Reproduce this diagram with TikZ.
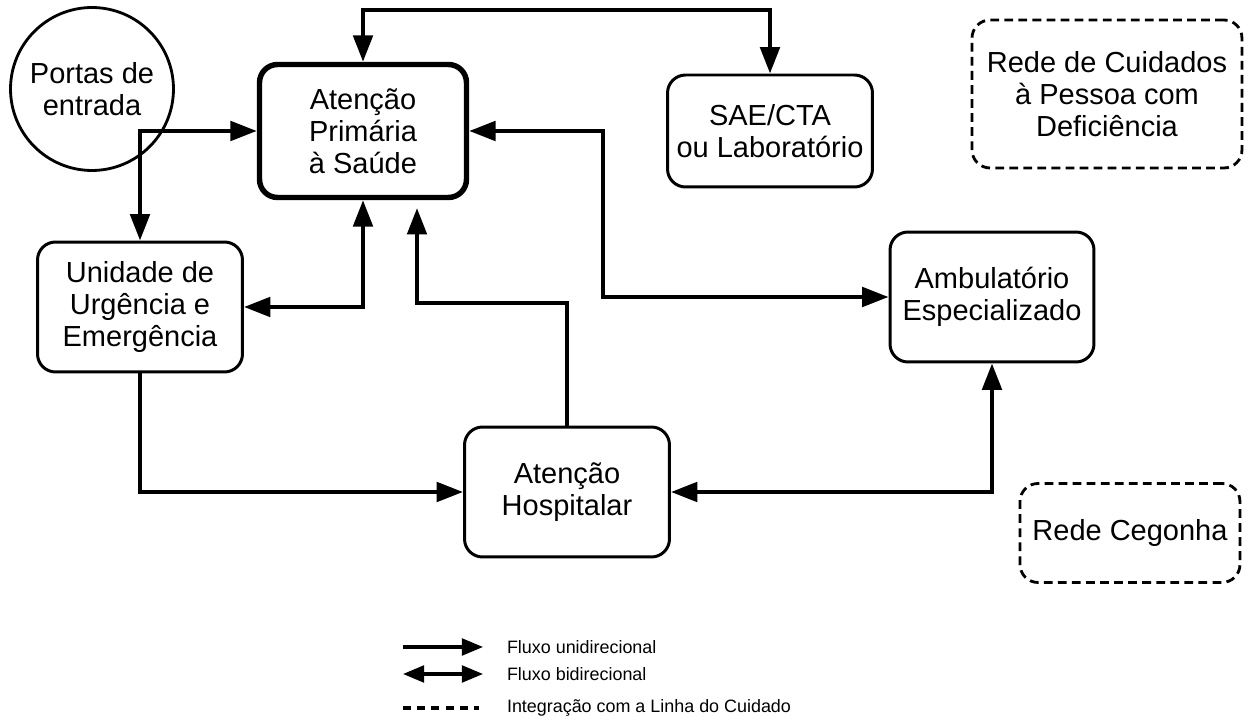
\documentclass[tikz,border=0pt]{standalone}
\usepackage{fontspec}
\setmainfont{Liberation Sans}
\usetikzlibrary{arrows.meta}

\begin{document}
\begin{tikzpicture}[x=0.02cm,y=-0.02cm,>={Triangle[length=15pt,width=11pt]},line width=2.3pt,
        main node/.style={draw,rounded corners=0.36cm,line width=1.7pt,align=center,inner sep=0pt,
                minimum width=4.1cm,minimum height=2.6cm,font=\fontsize{16.5}{18.2}\selectfont},
        rede node/.style={main node,dash pattern=on 5pt off 3pt,line width=1.6pt},
        legend text/.style={anchor=west,inner sep=0pt,font=\fontsize{10.2}{12}\selectfont}]
        \useasboundingbox (0,0) rectangle (1249,722);
        \node[draw,circle,line width=1.6pt,minimum size=3.26cm,align=center,inner sep=0pt,
                font=\fontsize{16.5}{18.2}\selectfont] (portas) at (92,89) {Portas de\\entrada};
        \node[main node,line width=3.1pt,minimum width=4.14cm,minimum height=2.66cm] (aps) at (363,131) {Atenção\\Primária\\à Saúde};
        \node[main node,minimum height=2.24cm] (sae) at (770,131) {SAE/CTA\\ou Laboratório};
        \node[main node] (uue) at (140,307) {Unidade de\\Urgência e\\Emergência};
        \node[main node,minimum width=4.08cm] (amb) at (992,297) {Ambulatório\\Especializado};
        \node[main node] (hosp) at (567,492) {Atenção\\Hospitalar};
        \node[rede node,minimum width=5.4cm,minimum height=2.96cm] (pcd) at (1107,94) {Rede de Cuidados\\à Pessoa com\\Deficiência};
        \node[rede node,minimum width=4.4cm,minimum height=1.98cm] (cegonha) at (1130,533) {Rede Cegonha};
        \coordinate (topo) at (363,10);
        \coordinate (desvio) at (603,131);
        \coordinate (retorno) at (417,303);

        \draw[<->] (aps.north) -- (topo) -| (sae.north);
        \draw[<->] (uue.north) |- (aps.west);
        \draw[<->] (uue.east) -| (aps.south);
        \draw[->,shorten >=4.5pt] (hosp.north) |- (retorno) -- (retorno |- aps.south);
        \draw[<->] (aps.east) -- (desvio) |- (amb.west);
        \draw[->] (uue.south) |- (hosp.west);
        \draw[<->] (hosp.east) -| (amb.south);

        % legenda
        \coordinate (l1) at (403,647);
        \coordinate (l2) at (403,674);
        \coordinate (l3) at (403,708);
        \draw[->,line width=1.8pt,>={Triangle[length=12pt,width=9.5pt]}] (l1) -- ++(80,0);
        \draw[<->,line width=1.8pt,>={Triangle[length=12pt,width=9.5pt]}] (l2) -- ++(80,0);
        \draw[line width=1.9pt,dash pattern=on 4.5pt off 3.6pt] (l3) -- ++(76,0);
        \node[legend text] (t1) at (505,647) {Fluxo unidirecional};
        \node[legend text] (t2) at (505,674) {Fluxo bidirecional};
        \node[legend text] (t3) at (505,708) {Integração com a Linha do Cuidado};
\end{tikzpicture}
\end{document}
